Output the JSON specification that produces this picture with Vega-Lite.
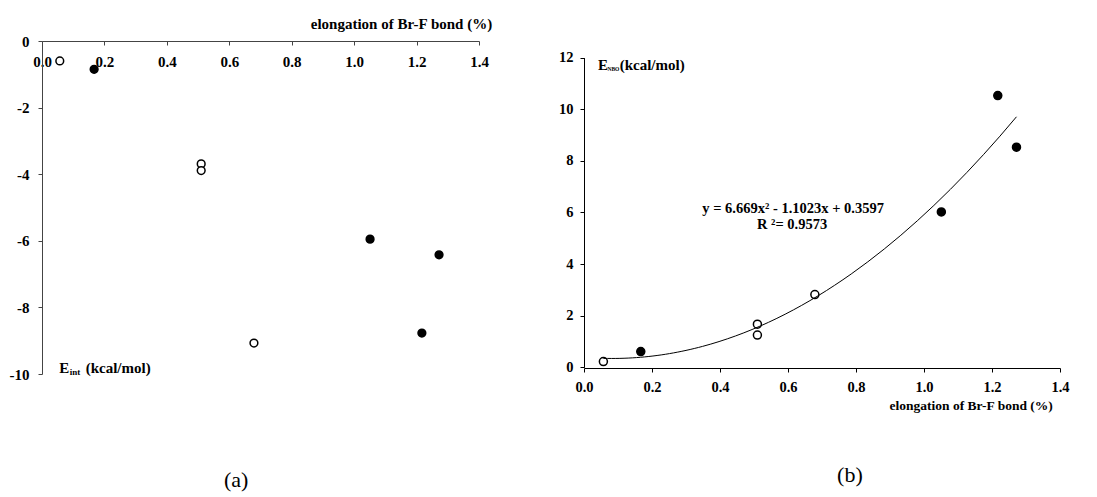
{
  "$schema": "https://vega.github.io/schema/vega-lite/v6.json",
  "padding": {"left": 9, "top": 16, "right": 5, "bottom": 0},
  "background": "white",
  "spacing": 66,
  "config": {
    "view": {"stroke": null},
    "font": "Liberation Serif",
    "axis": {
      "grid": false,
      "labelFont": "Liberation Serif",
      "labelFontWeight": "bold",
      "labelFontSize": 15,
      "labelColor": "black",
      "titleFont": "Liberation Serif",
      "titleFontWeight": "bold",
      "titleFontSize": 15,
      "titleColor": "black",
      "domainColor": "#444",
      "tickColor": "#444",
      "tickSize": 4,
      "labelFlush": false
    }
  },
  "datasets": {
    "pts": [
      {"x": 0.057, "eint": -0.6, "enbo": 0.22, "type": "open"},
      {"x": 0.167, "eint": -0.85, "enbo": 0.61, "type": "filled"},
      {"x": 0.510, "eint": -3.69, "enbo": 1.67, "type": "open"},
      {"x": 0.510, "eint": -3.89, "enbo": 1.25, "type": "open"},
      {"x": 0.679, "eint": -9.07, "enbo": 2.82, "type": "open"},
      {"x": 1.051, "eint": -5.95, "enbo": 6.02, "type": "filled"},
      {"x": 1.217, "eint": -8.77, "enbo": 10.53, "type": "filled"},
      {"x": 1.272, "eint": -6.42, "enbo": 8.53, "type": "filled"}
    ],
    "one": [{}]
  },
  "hconcat": [
    {
      "width": 437,
      "height": 333,
      "layer": [
        {
          "data": {"name": "pts"},
          "mark": {"type": "point", "filled": true, "size": 60, "stroke": "black", "strokeWidth": 1.5, "opacity": 1},
          "encoding": {
            "x": {"field": "x", "type": "quantitative",
              "scale": {"domain": [0, 1.4], "nice": false, "zero": false},
              "axis": {"orient": "bottom", "offset": -333, "values": [0, 0.2, 0.4, 0.6, 0.8, 1.0, 1.2, 1.4], "format": ".1f",
                "labelPadding": 9, "title": "elongation of Br-F bond (%)",
                "titleX": 449.7, "titleY": -12.7, "titleAlign": "right", "titleBaseline": "alphabetic", "titleAnchor": null}},
            "y": {"field": "eint", "type": "quantitative",
              "scale": {"domain": [-10, 0], "nice": false, "zero": false},
              "axis": {"values": [0, -2, -4, -6, -8, -10], "labelPadding": 9, "title": null,
                "labelExpr": "datum.value == 0 ? '0' : '-' + abs(datum.value)"}},
            "fill": {"field": "type", "type": "nominal", "scale": {"domain": ["filled", "open"], "range": ["black", "white"]}, "legend": null}
          }
        },
        {
          "data": {"name": "one"},
          "mark": {"type": "text", "align": "left", "baseline": "alphabetic", "fontWeight": "bold", "fontSize": 15, "font": "Liberation Serif"},
          "encoding": {"x": {"datum": 0.055}, "y": {"datum": -9.96}, "text": {"value": "E"}}
        },
        {
          "data": {"name": "one"},
          "mark": {"type": "text", "align": "left", "baseline": "alphabetic", "fontWeight": "bold", "fontSize": 9, "font": "Liberation Serif", "dy": 2},
          "encoding": {"x": {"datum": 0.089}, "y": {"datum": -9.96}, "text": {"value": "int"}}
        },
        {
          "data": {"name": "one"},
          "mark": {"type": "text", "align": "left", "baseline": "alphabetic", "fontWeight": "bold", "fontSize": 15, "font": "Liberation Serif"},
          "encoding": {"x": {"datum": 0.14}, "y": {"datum": -9.96}, "text": {"value": "(kcal/mol)"}}
        },
        {
          "data": {"name": "one"},
          "mark": {"type": "text", "align": "center", "baseline": "alphabetic", "fontSize": 22, "font": "Liberation Serif"},
          "encoding": {"x": {"datum": 0.622}, "y": {"datum": -13.4}, "text": {"value": "(a)"}}
        }
      ]
    },
    {
      "width": 476,
      "height": 327,
      "layer": [
        {
          "data": {"name": "pts"},
          "mark": {"type": "point", "filled": true, "size": 64, "stroke": "black", "strokeWidth": 1.5, "opacity": 1},
          "encoding": {
            "x": {"field": "x", "type": "quantitative",
              "scale": {"domain": [0, 1.4], "nice": false, "zero": false},
              "axis": {"values": [0, 0.2, 0.4, 0.6, 0.8, 1.0, 1.2, 1.4], "format": ".1f", "labelPadding": 8,
                "labelFontSize": 14.5, "titleFontSize": 13.5,
                "domainColor": "black", "tickColor": "black",
                "title": "elongation of Br-F bond (%)",
                "titleX": 468.3, "titleY": 41.7, "titleAlign": "right", "titleBaseline": "alphabetic", "titleAnchor": null}},
            "y": {"field": "enbo", "type": "quantitative",
              "scale": {"domain": [0, 12], "nice": false, "zero": true, "range": [326.3, 16.6]},
              "axis": {"values": [0, 2, 4, 6, 8, 10, 12], "labelPadding": 7, "title": null, "labelFontSize": 14.5,
                "domainColor": "black", "tickColor": "black"}},
            "fill": {"field": "type", "type": "nominal", "scale": {"domain": ["filled", "open"], "range": ["black", "white"]}, "legend": null}
          }
        },
        {
          "data": {"name": "pts"},
          "transform": [{"regression": "enbo", "on": "x", "method": "poly", "order": 2}],
          "mark": {"type": "line", "color": "black", "strokeWidth": 1},
          "encoding": {"x": {"field": "x", "type": "quantitative"}, "y": {"field": "enbo", "type": "quantitative"}}
        },
        {
          "data": {"name": "one"},
          "mark": {"type": "text", "align": "left", "baseline": "alphabetic", "fontWeight": "bold", "fontSize": 15, "font": "Liberation Serif"},
          "encoding": {"x": {"datum": 0.041}, "y": {"datum": 11.52}, "text": {"value": "E"}}
        },
        {
          "data": {"name": "one"},
          "mark": {"type": "text", "align": "left", "baseline": "alphabetic", "fontWeight": "bold", "fontSize": 5.5, "font": "Liberation Serif", "dy": 1},
          "encoding": {"x": {"datum": 0.069}, "y": {"datum": 11.52}, "text": {"value": "NBO"}}
        },
        {
          "data": {"name": "one"},
          "mark": {"type": "text", "align": "left", "baseline": "alphabetic", "fontWeight": "bold", "fontSize": 15, "font": "Liberation Serif"},
          "encoding": {"x": {"datum": 0.105}, "y": {"datum": 11.52}, "text": {"value": "(kcal/mol)"}}
        },
        {
          "data": {"name": "one"},
          "mark": {"type": "text", "align": "center", "baseline": "alphabetic", "fontWeight": "bold", "fontSize": 14.5, "font": "Liberation Serif"},
          "encoding": {"x": {"datum": 0.615}, "y": {"datum": 5.97}, "text": {"value": "y = 6.669x² - 1.1023x + 0.3597"}}
        },
        {
          "data": {"name": "one"},
          "mark": {"type": "text", "align": "center", "baseline": "alphabetic", "fontWeight": "bold", "fontSize": 14.5, "font": "Liberation Serif"},
          "encoding": {"x": {"datum": 0.612}, "y": {"datum": 5.36}, "text": {"value": "R ²= 0.9573"}}
        },
        {
          "data": {"name": "one"},
          "mark": {"type": "text", "align": "center", "baseline": "alphabetic", "fontSize": 22, "font": "Liberation Serif"},
          "encoding": {"x": {"datum": 0.782}, "y": {"datum": -4.45}, "text": {"value": "(b)"}}
        }
      ]
    }
  ]
}
